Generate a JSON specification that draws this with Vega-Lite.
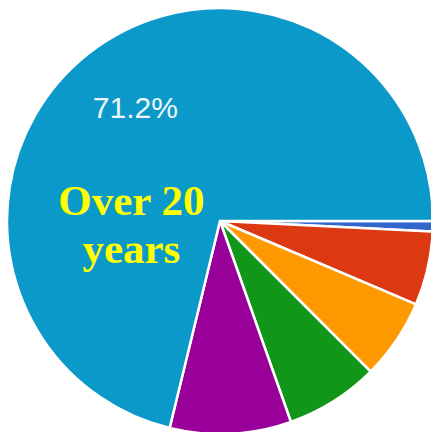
{
  "$schema": "https://vega.github.io/schema/vega-lite/v6.json",
  "autosize": "none",
  "width": 422,
  "height": 422,
  "padding": {"left": 9, "top": 10, "right": 0, "bottom": 0},
  "background": "white",
  "view": {"stroke": null},
  "data": {
    "values": [
      {"category": "Under 1 year", "share": 0.8, "rank": 1, "label": "", "note": ""},
      {"category": "1-5 years", "share": 5.6, "rank": 2, "label": "", "note": ""},
      {"category": "6-10 years", "share": 6.1, "rank": 3, "label": "", "note": ""},
      {"category": "11-15 years", "share": 7.1, "rank": 4, "label": "", "note": ""},
      {"category": "16-20 years", "share": 9.2, "rank": 5, "label": "", "note": ""},
      {"category": "Over 20 years", "share": 71.2, "rank": 6, "label": "71.2%", "note": "Over 20\nyears"}
    ]
  },
  "encoding": {
    "theta": {"field": "share", "type": "quantitative", "stack": true, "scale": {"range": [1.5708, 7.854]}},
    "order": {"field": "rank", "type": "quantitative"}
  },
  "layer": [
    {
      "mark": {"type": "arc", "outerRadius": 213, "stroke": "white", "strokeWidth": 2.5},
      "encoding": {
        "color": {
          "field": "category",
          "type": "nominal",
          "sort": ["Under 1 year", "1-5 years", "6-10 years", "11-15 years", "16-20 years", "Over 20 years"],
          "scale": {
            "domain": ["Under 1 year", "1-5 years", "6-10 years", "11-15 years", "16-20 years", "Over 20 years"],
            "range": ["#3366cc", "#dc3912", "#ff9900", "#109618", "#990099", "#0b99c9"]
          },
          "legend": null
        }
      }
    },
    {
      "mark": {"type": "text", "radius": 141, "font": "Liberation Sans", "fontSize": 30, "fill": "#eef6fb", "align": "center", "baseline": "middle", "dx": 2.5, "dy": -1},
      "encoding": {"text": {"field": "label"}}
    },
    {
      "mark": {"type": "text", "radius": 141, "font": "Liberation Serif", "fontWeight": "bold", "fontSize": 43, "fill": "#ffff00", "align": "center", "baseline": "alphabetic", "lineBreak": "\n", "lineHeight": 48, "dx": -1.5, "dy": 104.5},
      "encoding": {"text": {"field": "note"}}
    }
  ]
}
